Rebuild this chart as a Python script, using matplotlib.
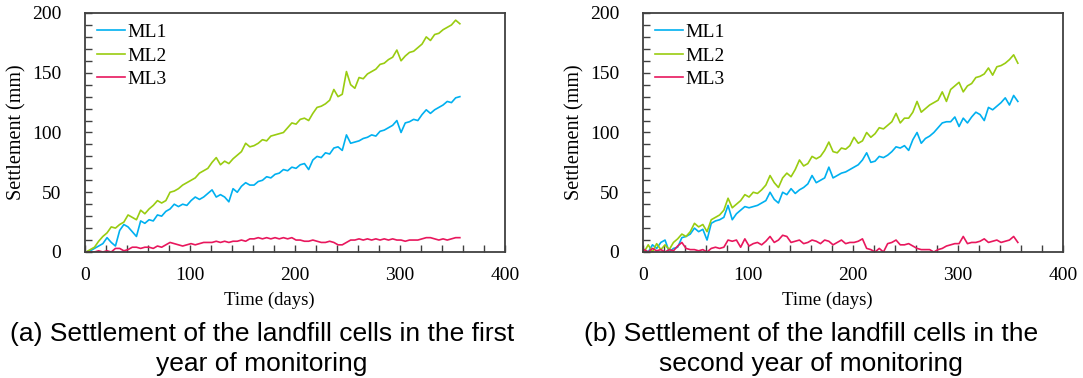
import numpy as np
import matplotlib.pyplot as plt
from matplotlib import font_manager
from matplotlib.ticker import MultipleLocator

# Sampling days (every 4 days over the monitoring year)
days = np.arange(1, 361, 4)

# First year of monitoring (mm)
y1_ml1 = [0, 1, 3, 5, 7, 12, 8, 5, 18, 23, 21, 17, 13, 26, 24, 27, 26, 31, 30, 34,
          36, 40, 38, 40, 39, 43, 46, 44, 46, 49, 52, 46, 48, 46, 42, 53, 50, 55, 58, 56,
          56, 59, 60, 63, 62, 65, 66, 69, 68, 71, 70, 73, 74, 69, 77, 80, 79, 83, 82, 87,
          88, 85, 98, 91, 92, 93, 95, 96, 98, 97, 101, 102, 104, 106, 110, 100, 108, 109, 111, 110,
          115, 119, 116, 119, 121, 123, 126, 125, 129, 130]
y1_ml2 = [0, 2, 4, 9, 13, 16, 21, 20, 23, 25, 31, 29, 27, 35, 32, 36, 39, 43, 41, 43,
          50, 51, 53, 56, 58, 60, 62, 66, 68, 70, 75, 79, 73, 76, 74, 78, 81, 84, 91, 88,
          89, 91, 94, 93, 97, 98, 99, 100, 104, 108, 107, 111, 112, 110, 116, 121, 122, 124, 127, 136,
          130, 132, 151, 140, 137, 146, 145, 149, 151, 153, 157, 158, 161, 163, 169, 160, 164, 167, 168, 171,
          174, 180, 177, 182, 183, 186, 188, 190, 194, 191]
y1_ml3 = [0, 0, 0, 1, 0, 1, 0, 3, 3, 1, 2, 4, 4, 3, 4, 4, 3, 5, 4, 6,
          8, 7, 6, 5, 6, 7, 6, 7, 8, 8, 8, 9, 8, 9, 8, 9, 9, 10, 9, 11,
          11, 12, 11, 12, 11, 12, 11, 12, 11, 12, 10, 10, 9, 9, 10, 9, 8, 8, 9, 8,
          6, 6, 8, 10, 10, 11, 10, 11, 10, 11, 10, 11, 10, 11, 10, 10, 9, 10, 10, 10,
          11, 12, 12, 11, 10, 11, 10, 11, 12, 12]

# Second year of monitoring (mm)
y2_ml1 = [2, 0, 6, 3, 8, 10, 0, 3, 4, 12, 13, 15, 20, 17, 19, 10, 24, 26, 27, 29,
          39, 27, 32, 35, 38, 37, 38, 39, 41, 43, 50, 44, 41, 50, 48, 53, 49, 52, 54, 57,
          64, 58, 60, 62, 71, 62, 64, 66, 67, 69, 71, 73, 77, 83, 75, 76, 80, 79, 81, 84,
          88, 87, 89, 85, 94, 100, 91, 95, 97, 100, 104, 108, 109, 109, 113, 105, 112, 108, 113, 117,
          115, 110, 121, 119, 122, 125, 129, 123, 131, 126]
y2_ml2 = [0, 6, 0, 7, 2, 6, 2, 8, 11, 15, 13, 17, 24, 21, 23, 17, 27, 29, 31, 35,
          45, 37, 40, 43, 48, 46, 50, 49, 52, 56, 64, 58, 54, 62, 66, 63, 69, 77, 72, 74,
          80, 78, 80, 85, 92, 84, 83, 87, 86, 89, 96, 91, 93, 100, 96, 99, 104, 103, 106, 109,
          116, 108, 112, 112, 117, 126, 117, 120, 123, 125, 127, 134, 126, 136, 139, 142, 134, 139, 141, 146,
          147, 149, 154, 148, 155, 156, 158, 161, 165, 158]
y2_ml3 = [2, 0, 3, 1, 2, 0, 2, 1, 5, 8, 3, 2, 2, 1, 2, 0, 3, 4, 3, 4,
          10, 9, 10, 4, 11, 5, 7, 8, 6, 9, 13, 8, 10, 14, 13, 8, 9, 10, 7, 8,
          10, 9, 7, 10, 9, 6, 8, 10, 7, 8, 8, 9, 11, 3, 2, 0, 3, 0, 7, 8,
          10, 6, 6, 7, 5, 3, 2, 2, 2, 0, 2, 3, 5, 6, 7, 7, 13, 7, 8, 8,
          9, 11, 8, 9, 10, 8, 9, 10, 13, 8]

series_names = ["ML1", "ML2", "ML3"]
colors = ["#00B0F0", "#99CC11", "#E8175D"]
captions = [
    "(a) Settlement of the landfill cells in the first\nyear of monitoring",
    "(b) Settlement of the landfill cells in the\nsecond year of monitoring",
]

plt.rcParams["font.family"] = ["Liberation Serif", "DejaVu Serif"]

# caption font: narrow sans if it is there, plain sans otherwise
installed = {f.name for f in font_manager.fontManager.ttflist}
if "Liberation Sans Narrow" in installed:
    cap_family, cap_size = ["Liberation Sans Narrow", "DejaVu Sans"], 22
else:
    cap_family, cap_size = ["Liberation Sans", "DejaVu Sans"], 19

fig = plt.figure(figsize=(10.83, 3.78), dpi=100)
W, H = 1083, 378
panels = [
    (85, [y1_ml1, y1_ml2, y1_ml3], captions[0], 262),
    (643, [y2_ml1, y2_ml2, y2_ml3], captions[1], 811),
]

for left, data, cap, cap_x in panels:
    ax = fig.add_axes([left / W, 1 - 252 / H, 420 / W, 239 / H])
    for vals, name, col in zip(data, series_names, colors):
        ax.plot(days, vals, color=col, lw=1.2, label=name)
    ax.set_xlim(0, 400)
    ax.set_ylim(0, 200)
    ax.xaxis.set_major_locator(MultipleLocator(100))
    ax.xaxis.set_minor_locator(MultipleLocator(20))
    ax.yaxis.set_major_locator(MultipleLocator(50))
    ax.yaxis.set_minor_locator(MultipleLocator(10))
    ax.tick_params(which="both", direction="in", length=5, width=1, color="#404040",
                   top=False, right=False, labelsize=14)
    ax.tick_params(axis="y", pad=17)
    ax.tick_params(axis="x", pad=11)
    for sp in ax.spines.values():
        sp.set_color("#404040")
        sp.set_linewidth(1.3)
    ax.set_xlabel("Time (days)", fontsize=13.5)
    ax.xaxis.set_label_coords(0.44, -0.165)
    ax.set_ylabel("Settlement (mm)", fontsize=14.5, labelpad=4)
    ax.legend(loc="upper left", frameon=False, fontsize=14, handlelength=1.45,
              handletextpad=0.15, labelspacing=0.3, borderaxespad=0.2,
              bbox_to_anchor=(0.0, 1.005))
    fig.text(cap_x / W, 1 - 349 / H, cap, ha="center", va="center", fontsize=cap_size,
             family=cap_family, linespacing=1.33)

fig.savefig("out.png", dpi=100)
